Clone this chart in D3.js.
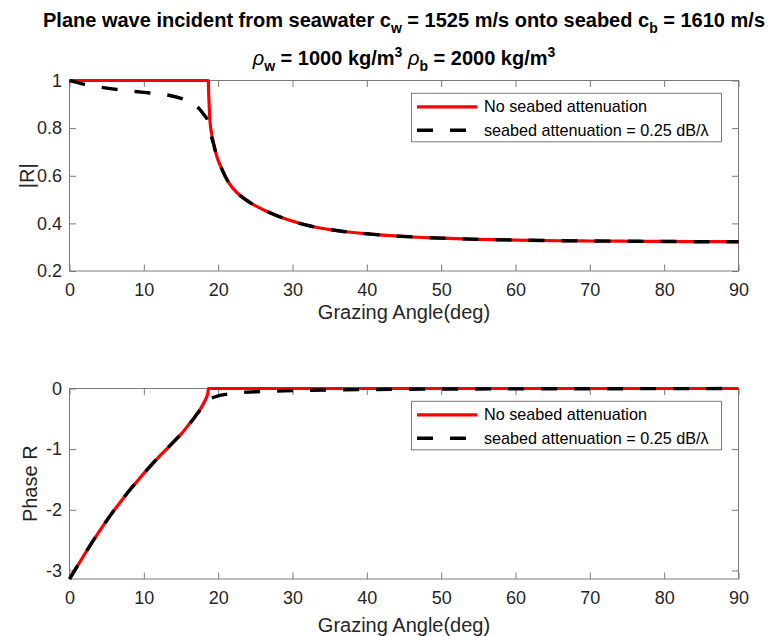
<!DOCTYPE html>
<html>
<head>
<meta charset="utf-8">
<script src="https://cdn.jsdelivr.net/npm/d3@7"></script>
<style>
  html, body { margin: 0; padding: 0; background: #fff; }
  svg { display: block; font-family: "Liberation Sans", Arial, Helvetica, sans-serif; }
</style>
</head>
<body>
<svg id="chart" width="774" height="636"></svg>
<script>
// ---------------- DATA ----------------
const seriesNames = ["No seabed attenuation", "seabed attenuation = 0.25 dB/\u03BB"];

// |R| without attenuation
const magAngleNoAtt = [0, 18.68, 18.72, 18.8, 18.9, 19.1, 19.35, 19.8, 20.5, 21.4, 22.5, 24.3, 26.5, 29.2, 32.4, 36.4, 40.9, 44.5, 50, 55, 60, 66, 70, 75, 80, 85, 90];
const magNoAtt      = [1, 1, 0.95, 0.89, 0.83, 0.78, 0.74, 0.683, 0.628, 0.572, 0.530, 0.487, 0.451, 0.417, 0.389, 0.368, 0.354, 0.346, 0.338, 0.333, 0.330, 0.327, 0.326, 0.325, 0.324, 0.323, 0.323];

// |R| with attenuation
const magAngleAtt = [0, 1, 2, 3.5, 5, 6.5, 8, 10, 12, 13.5, 15, 16, 16.8, 17.5, 18, 18.7, 19.0, 19.35, 19.8, 20.5, 21.4, 22.5, 24.3, 26.5, 29.2, 32.4, 36.4, 40.9, 44.5, 50, 55, 60, 66, 70, 75, 80, 85, 90];
const magAtt      = [1, 0.992, 0.984, 0.975, 0.968, 0.962, 0.957, 0.950, 0.944, 0.937, 0.925, 0.912, 0.898, 0.880, 0.860, 0.822, 0.775, 0.737, 0.683, 0.628, 0.572, 0.530, 0.487, 0.451, 0.417, 0.389, 0.368, 0.354, 0.346, 0.338, 0.333, 0.330, 0.327, 0.326, 0.325, 0.324, 0.323, 0.323];

// Phase R without attenuation
const phaseAngleNoAtt = [0, 0.7, 1.4, 2, 2.76, 3.5, 4.1, 5, 5.68, 6.5, 7.24, 8, 9.04, 10, 11.06, 12, 13.1, 14, 15.1, 16.2, 16.9, 17.6, 18.1, 18.45, 18.62, 18.68, 19, 30, 60, 90];
const phaseNoAtt      = [-3.1416, -3.00, -2.86, -2.74, -2.59, -2.45, -2.34, -2.18, -2.06, -1.93, -1.81, -1.69, -1.54, -1.40, -1.255, -1.13, -0.995, -0.88, -0.74, -0.57, -0.46, -0.34, -0.23, -0.14, -0.07, 0, 0, 0, 0, 0];

// Phase R with attenuation
const phaseAngleAtt = [0, 0.7, 1.4, 2, 2.76, 3.5, 4.1, 5, 5.68, 6.5, 7.24, 8, 9.04, 10, 11.06, 12, 13.1, 14, 15.1, 16.2, 16.9, 17.6, 18.2, 18.9, 19.5, 20.2, 21.4, 23.4, 26, 28, 31, 35.5, 40, 45, 50, 60, 70, 80, 90];
const phaseAtt      = [-3.1416, -3.00, -2.86, -2.74, -2.59, -2.45, -2.34, -2.18, -2.06, -1.93, -1.81, -1.69, -1.54, -1.40, -1.255, -1.13, -0.995, -0.88, -0.74, -0.575, -0.465, -0.35, -0.26, -0.175, -0.14, -0.115, -0.09, -0.065, -0.05, -0.04, -0.032, -0.024, -0.017, -0.012, -0.009, -0.006, -0.004, -0.002, -0.001];

const xTicks = [0, 10, 20, 30, 40, 50, 60, 70, 80, 90];
const magTicks = [0.2, 0.4, 0.6, 0.8, 1];
const magTickLabels = ["0.2", "0.4", "0.6", "0.8", "1"];
const phaseTicks = [-3, -2, -1, 0];
const phaseTickLabels = ["-3", "-2", "-1", "0"];

// ---------------- DRAWING ----------------
const svg = d3.select("#chart");
const axisColor = "#262626";
const boxColor = "#7a7a7a";
const tickLen = 6.5;
const dashPattern = "16,17";

const x = d3.scaleLinear().domain([0, 90]).range([69.5, 738.5]);

function drawPanel(cfg) {
  const g = svg.append("g");
  const y = cfg.y;
  const [y0, y1] = y.range(); // bottom, top
  const x0 = x.range()[0], x1 = x.range()[1];

  g.append("rect")
    .attr("x", x0).attr("y", y1).attr("width", x1 - x0).attr("height", y0 - y1)
    .attr("fill", "none").attr("stroke", boxColor).attr("stroke-width", 1);

  const ab = g.append("g").attr("transform", `translate(0,${y0})`)
    .call(d3.axisBottom(x).tickValues(xTicks).tickFormat(d3.format("d"))
      .tickSizeInner(-tickLen).tickSizeOuter(0).tickPadding(12));
  const at = g.append("g").attr("transform", `translate(0,${y1})`)
    .call(d3.axisTop(x).tickValues(xTicks).tickFormat("")
      .tickSizeInner(-tickLen).tickSizeOuter(0));
  const al = g.append("g").attr("transform", `translate(${x0},0)`)
    .call(d3.axisLeft(y).tickValues(cfg.ticks).tickFormat((d, i) => cfg.tickLabels[i])
      .tickSizeInner(-tickLen).tickSizeOuter(0).tickPadding(7.5));
  const ar = g.append("g").attr("transform", `translate(${x1},0)`)
    .call(d3.axisRight(y).tickValues(cfg.ticks).tickFormat("")
      .tickSizeInner(-tickLen).tickSizeOuter(0));

  [ab, at, al, ar].forEach(a => {
    a.select(".domain").remove();
    a.selectAll(".tick line").attr("stroke", boxColor).attr("stroke-width", 1);
    a.selectAll(".tick text").attr("fill", axisColor)
      .style("font-size", "18px")
      .style("font-family", '"Liberation Sans", Arial, Helvetica, sans-serif');
  });

  g.append("text")
    .attr("x", (x0 + x1) / 2).attr("y", cfg.xLabelY)
    .attr("text-anchor", "middle").attr("fill", axisColor)
    .style("font-size", "20px").text("Grazing Angle(deg)");
  g.append("text")
    .attr("transform", `translate(${cfg.yLabelX},${(y0 + y1) / 2}) rotate(-90)`)
    .attr("text-anchor", "middle").attr("dy", "0.35em").attr("fill", axisColor)
    .style("font-size", "20px").text(cfg.yLabel);

  const line = d3.line().x(d => x(d[0])).y(d => y(d[1])).curve(d3.curveMonotoneX);
  const dataA = cfg.angA.map((a, i) => [a, cfg.valA[i]]);
  const dataB = cfg.angB.map((a, i) => [a, cfg.valB[i]]);
  g.append("path").datum(dataA).attr("d", line)
    .attr("fill", "none").attr("stroke", "#ff0000").attr("stroke-width", 3.2)
    .attr("stroke-linejoin", "round");
  g.append("path").datum(dataB).attr("d", line)
    .attr("fill", "none").attr("stroke", "#000000").attr("stroke-width", 3.4)
    .attr("stroke-dasharray", dashPattern);

  const lx = 411.5, ly = y1 + 12.8, lw = 310, lh = 48.5;
  const lg = g.append("g");
  lg.append("rect").attr("x", lx).attr("y", ly).attr("width", lw).attr("height", lh)
    .attr("fill", "#fff").attr("stroke", boxColor).attr("stroke-width", 1);
  const rows = [
    { name: seriesNames[0], color: "#ff0000", dash: null, cy: ly + 13.5 },
    { name: seriesNames[1], color: "#000000", dash: dashPattern, cy: ly + 37 }
  ];
  rows.forEach(r => {
    lg.append("line").attr("x1", lx + 5.5).attr("x2", lx + 66).attr("y1", r.cy).attr("y2", r.cy)
      .attr("stroke", r.color).attr("stroke-width", r.dash ? 3.4 : 3.2)
      .attr("stroke-dasharray", r.dash);
    lg.append("text").attr("x", lx + 72.5).attr("y", r.cy).attr("dy", "0.35em")
      .attr("fill", "#000").style("font-size", "16.2px").text(r.name);
  });
}

const yTop = d3.scaleLinear().domain([0.2, 1]).range([271, 80.5]);
const yBot = d3.scaleLinear().domain([-Math.PI, 0]).range([579, 388.5]);

drawPanel({ y: yTop, ticks: magTicks, tickLabels: magTickLabels, yLabel: "|R|",
  angA: magAngleNoAtt, valA: magNoAtt, angB: magAngleAtt, valB: magAtt,
  xLabelY: 319, yLabelX: 27 });
drawPanel({ y: yBot, ticks: phaseTicks, tickLabels: phaseTickLabels, yLabel: "Phase R",
  angA: phaseAngleNoAtt, valA: phaseNoAtt, angB: phaseAngleAtt, valB: phaseAtt,
  xLabelY: 632, yLabelX: 30 });

// Title
const cx = (x.range()[0] + x.range()[1]) / 2;
const t1 = svg.append("text").attr("x", cx).attr("y", 27).attr("text-anchor", "middle")
  .attr("fill", "#000").style("font-size", "20px").style("font-weight", "bold");
t1.append("tspan").text("Plane wave incident from seawater c");
t1.append("tspan").attr("dy", 6).style("font-size", "14px").text("w");
t1.append("tspan").attr("dy", -6).text(" = 1525 m/s onto seabed c");
t1.append("tspan").attr("dy", 6).style("font-size", "14px").text("b");
t1.append("tspan").attr("dy", -6).text(" = 1610 m/s");

const t2 = svg.append("text").attr("x", cx).attr("y", 65).attr("text-anchor", "middle")
  .attr("fill", "#000").style("font-size", "20px").style("font-weight", "bold");
t2.append("tspan").style("font-style", "italic").style("font-weight", "normal").text("\u03C1");
t2.append("tspan").attr("dy", 6).style("font-size", "14px").text("w");
t2.append("tspan").attr("dy", -6).text(" = 1000 kg/m");
t2.append("tspan").attr("dy", -8).style("font-size", "14px").text("3");
t2.append("tspan").attr("dy", 8).text(" ");
t2.append("tspan").style("font-style", "italic").style("font-weight", "normal").text("\u03C1");
t2.append("tspan").attr("dy", 6).style("font-size", "14px").text("b");
t2.append("tspan").attr("dy", -6).text(" = 2000 kg/m");
t2.append("tspan").attr("dy", -8).style("font-size", "14px").text("3");
</script>
</body>
</html>
